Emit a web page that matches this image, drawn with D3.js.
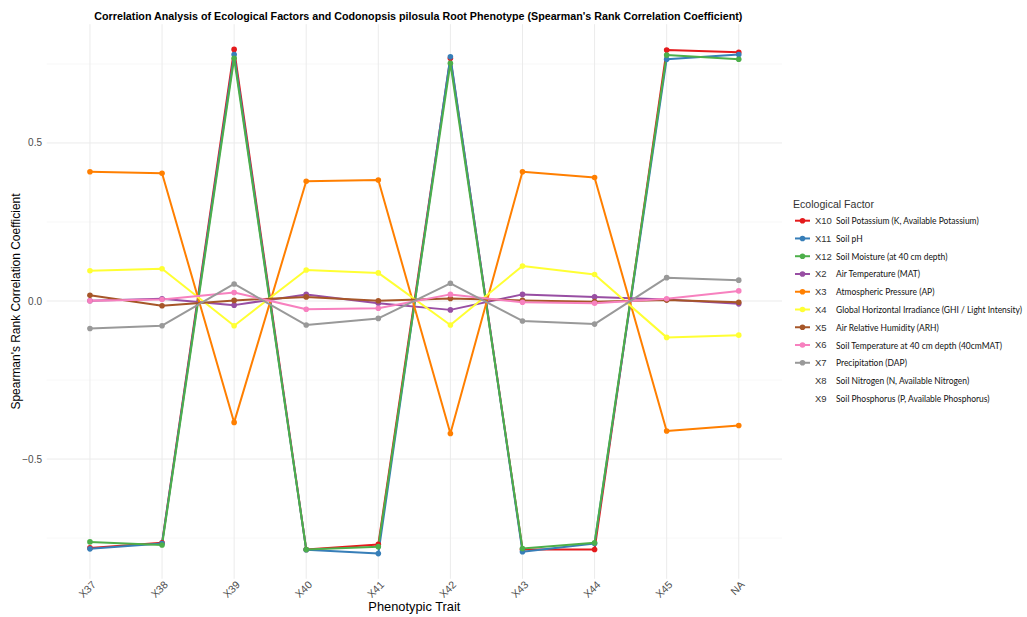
<!DOCTYPE html>
<html>
<head>
<meta charset="utf-8">
<script src="https://cdn.jsdelivr.net/npm/d3@7"></script>
<style>
  body { margin: 0; background: #fff; }
  svg { display: block; }
</style>
</head>
<body>
<div id="chart"></div>
<script>
const traits = ['X37', 'X38', 'X39', 'X40', 'X41', 'X42', 'X43', 'X44', 'X45', 'NA'];

const factorCodes = ['X10', 'X11', 'X12', 'X2', 'X3', 'X4', 'X5', 'X6', 'X7', 'X8', 'X9'];
const factorNames = [
  'Soil Potassium (K, Available Potassium)',
  'Soil pH',
  'Soil Moisture (at 40 cm depth)',
  'Air Temperature (MAT)',
  'Atmospheric Pressure (AP)',
  'Global Horizontal Irradiance (GHI / Light Intensity)',
  'Air Relative Humidity (ARH)',
  'Soil Temperature at 40 cm depth (40cmMAT)',
  'Precipitation (DAP)',
  'Soil Nitrogen (N, Available Nitrogen)',
  'Soil Phosphorus (P, Available Phosphorus)'
];
// Set1 only has 9 colours, so X8 and X9 get no colour (not drawn)
const palette = ['#E41A1C', '#377EB8', '#4DAF4A', '#984EA3', '#FF7F00', '#FFFF33', '#A65628', '#F781BF', '#999999'];

// spearman rho per trait (X37 .. NA)
const x10 = [-0.781, -0.765, 0.796, -0.786, -0.770, 0.768, -0.786, -0.786, 0.794, 0.787];
const x11 = [-0.784, -0.767, 0.780, -0.787, -0.799, 0.773, -0.793, -0.767, 0.765, 0.780];
const x12 = [-0.762, -0.772, 0.768, -0.786, -0.777, 0.752, -0.783, -0.765, 0.778, 0.765];
const x2  = [0.001, 0.007, -0.013, 0.021, -0.007, -0.028, 0.021, 0.013, 0.005, -0.009];
const x3  = [0.409, 0.404, -0.384, 0.379, 0.383, -0.419, 0.409, 0.391, -0.411, -0.394];
const x4  = [0.096, 0.102, -0.078, 0.098, 0.089, -0.076, 0.111, 0.084, -0.115, -0.108];
const x5  = [0.018, -0.015, 0.002, 0.013, 0.001, 0.008, 0.002, -0.002, 0.003, -0.004];
const x6  = [0.001, 0.005, 0.027, -0.026, -0.023, 0.021, -0.004, -0.007, 0.007, 0.032];
const x7  = [-0.087, -0.078, 0.054, -0.076, -0.055, 0.056, -0.063, -0.073, 0.074, 0.066];
const seriesValues = [x10, x11, x12, x2, x3, x4, x5, x6, x7];

const yMajor = [-0.5, 0, 0.5];
const yMinor = [-0.75, -0.25, 0.25, 0.75];

window.onload = () => {
  const width = 1027;
  const height = 617;
  const panel = { left: 46.7, right: 782, top: 24.2, bottom: 578.8 };

  const svg = d3.select('#chart')
    .append('svg')
    .attr('width', width)
    .attr('height', height)
    .style('font-family', '"Liberation Sans", Arial, sans-serif');

  const series = seriesValues.map((vals, i) => ({
    code: factorCodes[i],
    color: palette[i],
    values: vals.map((v, j) => ({ trait: traits[j], v: v }))
  }));

  const x = d3.scalePoint()
    .domain(traits)
    .range([panel.left, panel.right])
    .padding(0.6);

  // ggplot style 5% expansion
  const all = seriesValues.flat();
  const ext = d3.extent(all);
  const pad = (ext[1] - ext[0]) * 0.05;
  const y = d3.scaleLinear()
    .domain([ext[0] - pad, ext[1] + pad])
    .range([panel.bottom, panel.top]);

  const grid = svg.append('g');
  grid.selectAll('.minor')
    .data(yMinor)
    .join('line')
    .attr('x1', panel.left).attr('x2', panel.right)
    .attr('y1', d => y(d)).attr('y2', d => y(d))
    .attr('stroke', '#f2f2f2').attr('stroke-width', 0.6);
  grid.selectAll('.major')
    .data(yMajor)
    .join('line')
    .attr('x1', panel.left).attr('x2', panel.right)
    .attr('y1', d => y(d)).attr('y2', d => y(d))
    .attr('stroke', '#ebebeb').attr('stroke-width', 1);
  grid.selectAll('.vmajor')
    .data(traits)
    .join('line')
    .attr('x1', d => x(d)).attr('x2', d => x(d))
    .attr('y1', panel.top).attr('y2', panel.bottom)
    .attr('stroke', '#ebebeb').attr('stroke-width', 1);

  // y axis tick labels
  svg.append('g')
    .selectAll('text')
    .data(yMajor)
    .join('text')
    .attr('x', 42)
    .attr('y', d => y(d))
    .attr('dy', '0.35em')
    .attr('text-anchor', 'end')
    .attr('font-size', 10)
    .attr('fill', '#4d4d4d')
    .text(d => d3.format('.1f')(d));

  // x axis tick labels, rotated
  svg.append('g')
    .selectAll('text')
    .data(traits)
    .join('text')
    .attr('transform', d => `translate(${x(d) + 1},${panel.bottom + 1}) rotate(-45)`)
    .attr('text-anchor', 'end')
    .attr('dy', '0.75em')
    .attr('font-size', 10.5)
    .attr('fill', '#4d4d4d')
    .text(d => d);

  const line = d3.line()
    .x(d => x(d.trait))
    .y(d => y(d.v));

  svg.append('g')
    .selectAll('path')
    .data(series)
    .join('path')
    .attr('d', d => line(d.values))
    .attr('fill', 'none')
    .attr('stroke', d => d.color)
    .attr('stroke-width', 2)
    .attr('stroke-linejoin', 'round');

  svg.append('g')
    .selectAll('g')
    .data(series)
    .join('g')
    .attr('fill', d => d.color)
    .selectAll('circle')
    .data(d => d.values)
    .join('circle')
    .attr('cx', d => x(d.trait))
    .attr('cy', d => y(d.v))
    .attr('r', 2.8);

  // titles
  svg.append('text')
    .attr('x', (panel.left + panel.right) / 2 + 4)
    .attr('y', 20)
    .attr('text-anchor', 'middle')
    .attr('font-size', 11.5)
    .attr('font-weight', 'bold')
    .attr('fill', '#000')
    .attr('textLength', 648)
    .attr('lengthAdjust', 'spacingAndGlyphs')
    .text("Correlation Analysis of Ecological Factors and Codonopsis pilosula Root Phenotype (Spearman's Rank Correlation Coefficient)");

  svg.append('text')
    .attr('x', (panel.left + panel.right) / 2)
    .attr('y', 611)
    .attr('text-anchor', 'middle')
    .attr('font-size', 13)
    .attr('fill', '#000')
    .attr('textLength', 92)
    .attr('lengthAdjust', 'spacingAndGlyphs')
    .text('Phenotypic Trait');

  svg.append('text')
    .attr('transform', `translate(20,${(panel.top + panel.bottom) / 2}) rotate(-90)`)
    .attr('text-anchor', 'middle')
    .attr('font-size', 13)
    .attr('fill', '#000')
    .attr('textLength', 216)
    .attr('lengthAdjust', 'spacingAndGlyphs')
    .text("Spearman's Rank Correlation Coefficient");

  // legend
  const legend = svg.append('g');
  legend.append('text')
    .attr('x', 793)
    .attr('y', 208)
    .attr('font-size', 10.5)
    .attr('fill', '#333')
    .attr('textLength', 81)
    .attr('lengthAdjust', 'spacingAndGlyphs')
    .text('Ecological Factor');

  const rows = legend.selectAll('.row')
    .data(factorCodes)
    .join('g')
    .attr('transform', (d, i) => `translate(0,${220.7 + i * 17.76})`);

  rows.each(function(d, i) {
    const g = d3.select(this);
    const c = palette[i];
    if (c) {
      g.append('line')
        .attr('x1', 795).attr('x2', 810)
        .attr('stroke', c).attr('stroke-width', 2);
      g.append('circle')
        .attr('cx', 802.5).attr('r', 2.8).attr('fill', c);
    }
    g.append('text')
      .attr('x', 815)
      .attr('dy', '0.35em')
      .attr('font-size', 9.5)
      .attr('fill', '#333')
      .text(d);
    g.append('text')
      .attr('class', 'desc')
      .attr('x', 836)
      .attr('dy', '0.35em')
      .attr('font-size', 10)
      .attr('font-family', 'Lato, "Open Sans", sans-serif')
      .attr('fill', '#111')
      .text(factorNames[i]);
  });

  // squeeze descriptions so the longest one fits inside the page, like the narrow legend font
  const descs = legend.selectAll('.desc');
  const longest = d3.max(descs.nodes(), n => n.getComputedTextLength());
  const k = 186 / longest;
  descs.each(function() {
    d3.select(this)
      .attr('textLength', this.getComputedTextLength() * k)
      .attr('lengthAdjust', 'spacingAndGlyphs');
  });
};
</script>
</body>
</html>
